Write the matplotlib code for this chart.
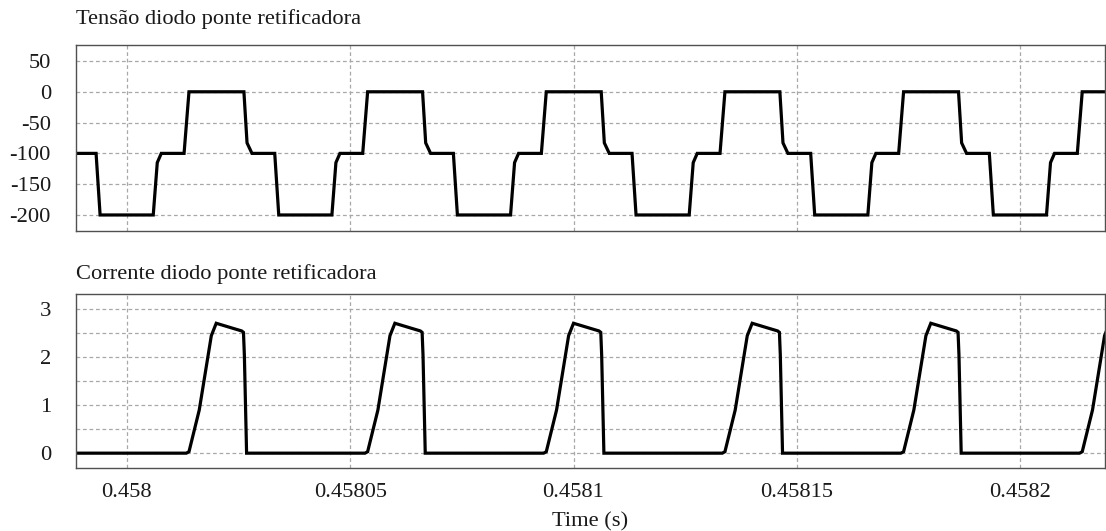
import matplotlib
matplotlib.use("Agg")
import matplotlib.pyplot as plt
from matplotlib.ticker import FixedLocator, FixedFormatter, MultipleLocator

plt.rcParams['font.family'] = ['Liberation Serif', 'DejaVu Serif']

# Time axis in microseconds after 0.458 s
T0 = 0.458
x_limits_us = (-11.4, 219.0)
x_ticks_us = [0, 50, 100, 150, 200]
x_tick_labels = ['0.458', '0.45805', '0.4581', '0.45815', '0.4582']

# Diode voltage breakpoints (V)
v_time_us = [
    -11.5,
    -6.9, -6.0, 5.9, 6.8, 7.7, 12.8, 13.9, 26.2, 26.9, 28.0,
    33.1, 34.0, 45.9, 46.8, 47.7, 52.8, 53.9, 66.2, 66.9, 68.0,
    73.1, 74.0, 85.9, 86.8, 87.7, 92.8, 93.9, 106.2, 106.9, 108.0,
    113.1, 114.0, 125.9, 126.8, 127.7, 132.8, 133.9, 146.2, 146.9, 148.0,
    153.1, 154.0, 165.9, 166.8, 167.7, 172.8, 173.9, 186.2, 186.9, 188.0,
    193.1, 194.0, 205.9, 206.8, 207.7, 212.8, 213.9, 219.5,
]
v_values = [
    -100,
    -100, -200, -200, -115, -100, -100, 0, 0, -83, -100,
    -100, -200, -200, -115, -100, -100, 0, 0, -83, -100,
    -100, -200, -200, -115, -100, -100, 0, 0, -83, -100,
    -100, -200, -200, -115, -100, -100, 0, 0, -83, -100,
    -100, -200, -200, -115, -100, -100, 0, 0, -83, -100,
    -100, -200, -200, -115, -100, -100, 0, 0,
]

# Diode current breakpoints (A)
i_time_us = [
    -11.5,
    13.3, 13.9, 16.2, 18.9, 20.0, 23.9, 25.7, 26.1, 26.3, 26.8,
    53.3, 53.9, 56.2, 58.9, 60.0, 63.9, 65.7, 66.1, 66.3, 66.8,
    93.3, 93.9, 96.2, 98.9, 100.0, 103.9, 105.7, 106.1, 106.3, 106.8,
    133.3, 133.9, 136.2, 138.9, 140.0, 143.9, 145.7, 146.1, 146.3, 146.8,
    173.3, 173.9, 176.2, 178.9, 180.0, 183.9, 185.7, 186.1, 186.3, 186.8,
    213.3, 213.9, 216.2, 218.9, 220.0,
]
i_values = [
    0,
    0, 0.03, 0.9, 2.45, 2.71, 2.6, 2.55, 2.52, 2.05, 0,
    0, 0.03, 0.9, 2.45, 2.71, 2.6, 2.55, 2.52, 2.05, 0,
    0, 0.03, 0.9, 2.45, 2.71, 2.6, 2.55, 2.52, 2.05, 0,
    0, 0.03, 0.9, 2.45, 2.71, 2.6, 2.55, 2.52, 2.05, 0,
    0, 0.03, 0.9, 2.45, 2.71, 2.6, 2.55, 2.52, 2.05, 0,
    0, 0.03, 0.9, 2.45, 2.71,
]

v_ticks = [50, 0, -50, -100, -150, -200]
i_ticks = [0, 1, 2, 3]

titles = ['Tensão diodo ponte retificadora', 'Corrente diodo ponte retificadora']
x_label = 'Time (s)'


def to_seconds(us_list):
    return [T0 + u * 1e-6 for u in us_list]


fig = plt.figure(figsize=(11.06, 5.31), dpi=100)
ax_v = fig.add_axes([0.0687, 0.565, 0.9304, 0.3503])
ax_i = fig.add_axes([0.0687, 0.1186, 0.9304, 0.3277])

text_color = '#1a1a1a'
fs = 16.2
grid_kw = dict(color='#a8a8a8', linestyle=(0, (3.0, 2.2)), linewidth=0.9)

for ax in (ax_v, ax_i):
    ax.set_xlim(*to_seconds(x_limits_us))
    ax.xaxis.set_major_locator(FixedLocator(to_seconds(x_ticks_us)))
    for s in ax.spines.values():
        s.set_color('#505050')
        s.set_linewidth(1.0)
    ax.tick_params(length=0, labelsize=fs, colors=text_color, pad=18)
    ax.grid(True, which='major', **grid_kw)
    ax.set_axisbelow(True)

ax_v.plot(to_seconds(v_time_us), v_values, color='black', linewidth=2.3,
          solid_joinstyle='miter')
ax_v.set_ylim(-226, 76)
ax_v.set_yticks(v_ticks)
ax_v.set_yticklabels([str(v) for v in v_ticks])
ax_v.set_xticklabels([])
ax_v.set_title(titles[0], loc='left', fontsize=fs, color=text_color, pad=15)

ax_i.plot(to_seconds(i_time_us), i_values, color='black', linewidth=2.3,
          solid_joinstyle='miter')
ax_i.set_ylim(-0.31, 3.32)
ax_i.set_yticks(i_ticks)
ax_i.set_yticklabels([str(v) for v in i_ticks])
ax_i.yaxis.set_minor_locator(MultipleLocator(0.5))
ax_i.tick_params(which='minor', length=0)
ax_i.grid(True, which='minor', axis='y', **grid_kw)
ax_i.xaxis.set_major_formatter(FixedFormatter(x_tick_labels))
ax_i.tick_params(axis='x', pad=11)
ax_i.set_xlabel(x_label, fontsize=fs, color=text_color, labelpad=7)
ax_i.set_title(titles[1], loc='left', fontsize=fs, color=text_color, pad=11)

fig.savefig('out.png', dpi=100)
